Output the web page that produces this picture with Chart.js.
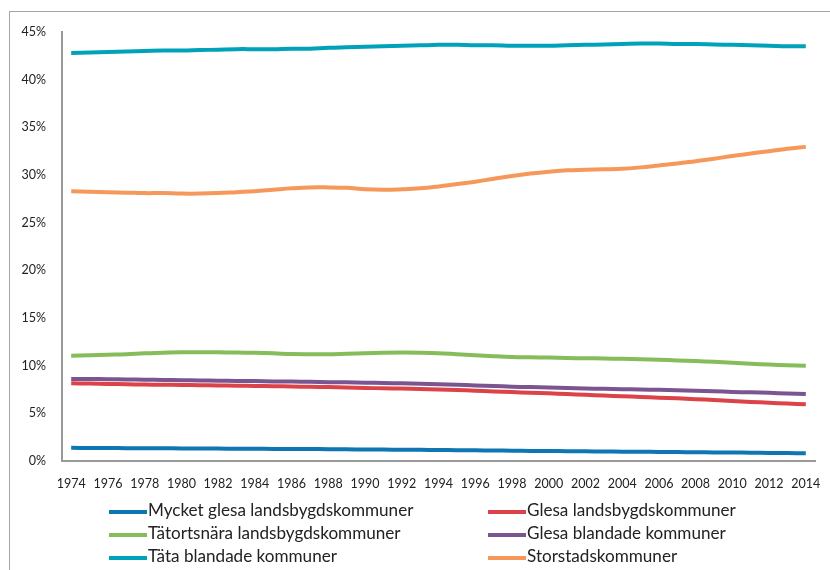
<!DOCTYPE html>
<html>
<head>
<meta charset="utf-8">
<script src="https://cdn.jsdelivr.net/npm/chart.js@4.4.1/dist/chart.umd.min.js"></script>
<style>
  html, body { margin: 0; padding: 0; background: #fff; overflow: hidden; }
  #wrap { position: relative; width: 830px; height: 570px; }
  #frame { position: absolute; left: 9px; top: 11px; width: 900px; height: 700px; border: 1px solid #a6a6a6; }
  #chart { position: absolute; left: 0; top: 0; }
  #legend { position: absolute; left: 109px; top: 498px; width: 700px; font-family: Lato, "Open Sans", sans-serif; font-size: 17.1px; color: #222; }
  .item { position: absolute; height: 23px; line-height: 23px; white-space: nowrap; }
  .item .swatch { display: inline-block; width: 38px; height: 4px; vertical-align: middle; margin-right: 1px; }
</style>
</head>
<body>
<div id="wrap">
  <div id="frame"></div>
  <canvas id="chart" width="830" height="570"></canvas>
  <div id="legend"></div>
</div>
<script>
var years = ['1974', '1975', '1976', '1977', '1978', '1979', '1980', '1981', '1982', '1983',
    '1984', '1985', '1986', '1987', '1988', '1989', '1990', '1991', '1992', '1993',
    '1994', '1995', '1996', '1997', '1998', '1999', '2000', '2001', '2002', '2003',
    '2004', '2005', '2006', '2007', '2008', '2009', '2010', '2011', '2012', '2013', '2014'];

var myckeGlesa = [1.38, 1.37, 1.36, 1.35, 1.34, 1.33, 1.32, 1.31, 1.30, 1.29,
    1.28, 1.27, 1.26, 1.25, 1.24, 1.22, 1.21, 1.20, 1.18, 1.17,
    1.15, 1.14, 1.12, 1.10, 1.08, 1.06, 1.05, 1.03, 1.01, 1.00,
    0.98, 0.97, 0.95, 0.94, 0.92, 0.90, 0.89, 0.87, 0.85, 0.83, 0.81];

var glesaLandsbygd = [8.15, 8.12, 8.08, 8.05, 8.02, 8.00, 7.98, 7.95, 7.93, 7.90,
    7.88, 7.85, 7.82, 7.78, 7.75, 7.70, 7.66, 7.63, 7.60, 7.55,
    7.50, 7.44, 7.38, 7.30, 7.23, 7.16, 7.10, 7.02, 6.94, 6.86,
    6.79, 6.72, 6.64, 6.57, 6.49, 6.40, 6.30, 6.20, 6.11, 6.02, 5.95];

var tatortsnara = [11.05, 11.10, 11.15, 11.20, 11.30, 11.35, 11.40, 11.40, 11.40, 11.38,
    11.35, 11.30, 11.22, 11.20, 11.20, 11.25, 11.30, 11.35, 11.37, 11.35,
    11.30, 11.20, 11.10, 11.00, 10.92, 10.88, 10.85, 10.80, 10.78, 10.75,
    10.72, 10.68, 10.62, 10.55, 10.48, 10.40, 10.30, 10.20, 10.12, 10.05, 10.00];

var glesaBlandade = [8.60, 8.60, 8.58, 8.55, 8.53, 8.50, 8.48, 8.45, 8.42, 8.40,
    8.38, 8.35, 8.33, 8.30, 8.27, 8.25, 8.22, 8.18, 8.15, 8.10,
    8.05, 8.00, 7.93, 7.87, 7.80, 7.75, 7.70, 7.65, 7.60, 7.57,
    7.53, 7.50, 7.47, 7.43, 7.38, 7.32, 7.25, 7.20, 7.15, 7.08, 7.03];

var tataBlandade = [42.80, 42.85, 42.90, 42.95, 43.00, 43.05, 43.05, 43.10, 43.15, 43.20,
    43.20, 43.20, 43.25, 43.25, 43.35, 43.40, 43.45, 43.50, 43.55, 43.60,
    43.65, 43.65, 43.60, 43.60, 43.55, 43.55, 43.55, 43.60, 43.65, 43.70,
    43.75, 43.80, 43.80, 43.75, 43.75, 43.70, 43.65, 43.60, 43.55, 43.50, 43.50];

var storstad = [28.30, 28.25, 28.20, 28.15, 28.10, 28.10, 28.05, 28.05, 28.10, 28.20,
    28.30, 28.45, 28.60, 28.70, 28.70, 28.65, 28.50, 28.45, 28.50, 28.60,
    28.80, 29.05, 29.30, 29.60, 29.90, 30.15, 30.35, 30.50, 30.55, 30.60,
    30.65, 30.80, 31.00, 31.20, 31.45, 31.70, 32.00, 32.25, 32.50, 32.75, 32.95];

var seriesNames = ['Mycket glesa landsbygdskommuner', 'Glesa landsbygdskommuner',
    'Tätortsnära landsbygdskommuner', 'Glesa blandade kommuner',
    'Täta blandade kommuner', 'Storstadskommuner'];
var seriesData = [myckeGlesa, glesaLandsbygd, tatortsnara, glesaBlandade, tataBlandade, storstad];
var seriesColors = ['#0e76b2', '#db4349', '#86bc5a', '#7a5591', '#00a2b9', '#f7985b'];

var yTicks = [0, 5, 10, 15, 20, 25, 30, 35, 40, 45];

var tickFont = { family: 'Lato, "Open Sans", sans-serif', size: 12.5 };

var datasets = seriesNames.map(function(name, i) {
    return {
        label: name,
        data: seriesData[i],
        borderColor: seriesColors[i],
        backgroundColor: seriesColors[i],
        borderWidth: 4,
        pointRadius: 0,
        tension: 0.4,
        fill: false
    };
});

var ctx = document.getElementById('chart').getContext('2d');
var myChart = new Chart(ctx, {
    type: 'line',
    data: { labels: years, datasets: datasets },
    options: {
        responsive: false,
        animation: false,
        devicePixelRatio: 1,
        layout: { padding: { left: 0, right: 15, top: 32, bottom: 79 } },
        plugins: { legend: { display: false }, tooltip: { enabled: false } },
        scales: {
            x: {
                offset: true,
                grid: { display: false },
                border: { display: true, color: '#999999', width: 2 },
                ticks: {
                    autoSkip: false,
                    maxRotation: 0,
                    padding: 7,
                    color: '#222',
                    font: tickFont,
                    callback: function(val, i) {
                        return i % 2 === 0 ? years[i] : '';
                    }
                },
                afterFit: function(scale) { scale.height = 30; }
            },
            y: {
                min: yTicks[0],
                max: yTicks[yTicks.length - 1],
                grid: { display: false },
                border: { display: true, color: '#999999', width: 2 },
                ticks: {
                    stepSize: 5,
                    padding: 8,
                    color: '#222',
                    font: tickFont,
                    callback: function(v) { return v + '%'; }
                },
                afterFit: function(scale) { scale.width = 62; }
            }
        }
    }
});

// legend as two columns, three rows
var legend = document.getElementById('legend');
seriesNames.forEach(function(name, i) {
    var item = document.createElement('div');
    item.className = 'item';
    item.style.left = (i % 2 === 0 ? 0 : 379) + 'px';
    item.style.top = (Math.floor(i / 2) * 23) + 'px';
    item.innerHTML = '<span class="swatch" style="background:' + seriesColors[i] + '"></span>' + name;
    legend.appendChild(item);
});
</script>
</body>
</html>
